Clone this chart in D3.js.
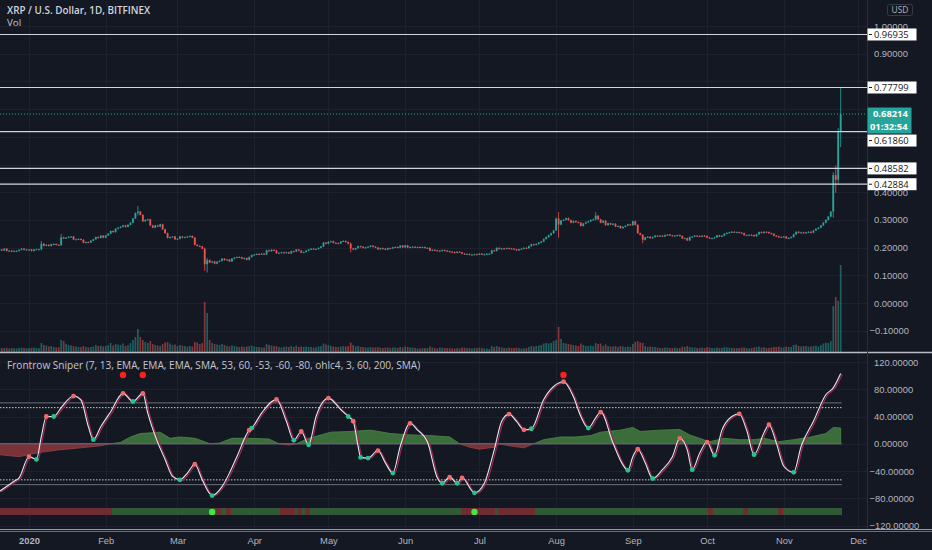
<!DOCTYPE html>
<html>
<head>
<meta charset="utf-8">
<script src="https://cdn.jsdelivr.net/npm/d3@7"></script>
<style>
  html, body { margin: 0; padding: 0; background: #141823; overflow: hidden; }
  svg { display: block; font-family: "Open Sans", "Noto Sans", sans-serif; }
</style>
</head>
<body>
<svg id="chart" width="932" height="550"></svg>
<script>
// ---- data (daily bars, first bar = 2019-12-20) ----
const startDate = new Date(Date.UTC(2019, 11, 20));
const firstOpen = 0.192;

const closeDec19 = [0.193,0.190,0.196,0.188,0.189,0.186,0.188,0.188,0.192,0.196,0.192,0.193];
const closeJan = [0.193,0.188,0.193,0.194,0.194,0.214,0.207,0.210,0.206,0.212,0.213,0.210,0.209,0.237,0.233,0.236,0.239,0.240,0.229,0.230,0.231,0.228,0.218,0.220,0.219,0.225,0.230,0.238,0.235,0.243,0.236];
const closeFeb = [0.244,0.250,0.260,0.256,0.268,0.272,0.275,0.280,0.275,0.282,0.290,0.305,0.325,0.330,0.318,0.295,0.300,0.302,0.280,0.272,0.280,0.276,0.284,0.266,0.252,0.235,0.238,0.240,0.230];
const closeMar = [0.232,0.240,0.236,0.238,0.240,0.242,0.236,0.210,0.206,0.204,0.196,0.140,0.155,0.146,0.150,0.142,0.149,0.152,0.160,0.155,0.157,0.150,0.160,0.164,0.166,0.165,0.160,0.162,0.156,0.166,0.173];
const closeApr = [0.175,0.177,0.176,0.178,0.175,0.190,0.187,0.192,0.190,0.180,0.181,0.183,0.181,0.183,0.179,0.187,0.186,0.193,0.189,0.182,0.184,0.189,0.193,0.196,0.195,0.195,0.199,0.204,0.218,0.214];
const closeMay = [0.221,0.223,0.217,0.216,0.215,0.222,0.224,0.220,0.214,0.197,0.193,0.198,0.205,0.203,0.199,0.201,0.203,0.207,0.203,0.200,0.194,0.198,0.196,0.193,0.198,0.197,0.201,0.202,0.200,0.207,0.201];
const closeJun = [0.208,0.200,0.202,0.203,0.201,0.202,0.201,0.202,0.199,0.199,0.189,0.192,0.190,0.189,0.189,0.191,0.189,0.187,0.185,0.184,0.181,0.185,0.183,0.178,0.177,0.177,0.174,0.175,0.176,0.175];
const closeJul = [0.178,0.175,0.176,0.178,0.178,0.190,0.188,0.199,0.195,0.197,0.196,0.198,0.197,0.196,0.194,0.190,0.194,0.196,0.199,0.198,0.205,0.212,0.210,0.213,0.218,0.222,0.231,0.238,0.245,0.252,0.262];
const closeAug = [0.305,0.283,0.298,0.300,0.306,0.299,0.290,0.296,0.292,0.290,0.278,0.287,0.292,0.295,0.300,0.302,0.315,0.302,0.290,0.297,0.281,0.288,0.283,0.286,0.276,0.278,0.270,0.275,0.279,0.284,0.281];
const closeSep = [0.295,0.282,0.252,0.246,0.228,0.237,0.239,0.234,0.238,0.243,0.241,0.243,0.240,0.245,0.247,0.244,0.242,0.243,0.245,0.242,0.233,0.234,0.226,0.238,0.240,0.243,0.242,0.240,0.243,0.242];
const closeOct = [0.236,0.233,0.234,0.237,0.244,0.240,0.243,0.250,0.253,0.255,0.257,0.256,0.256,0.254,0.252,0.245,0.245,0.246,0.245,0.241,0.248,0.256,0.253,0.257,0.256,0.252,0.250,0.243,0.241,0.237,0.238];
const closeNov = [0.240,0.233,0.235,0.238,0.248,0.257,0.253,0.255,0.253,0.255,0.257,0.254,0.262,0.268,0.272,0.280,0.290,0.300,0.312,0.330,0.462,0.445,0.620,0.682];

// notable wicks: date, high, low
const wicks = [
  ['2020-01-06', 0.222, 0.192],
  ['2020-01-14', 0.247, 0.208],
  ['2020-02-14', 0.348, 0.318],
  ['2020-03-12', 0.198, 0.118],
  ['2020-03-13', 0.160, 0.112],
  ['2020-05-10', 0.216, 0.185],
  ['2020-08-02', 0.326, 0.238],
  ['2020-08-17', 0.326, 0.300],
  ['2020-09-05', 0.246, 0.218],
  ['2020-11-21', 0.470, 0.310],
  ['2020-11-22', 0.494, 0.400],
  ['2020-11-23', 0.630, 0.430],
  ['2020-11-24', 0.778, 0.565]
];

// volume (millions)
const volDec19 = [45,38,40,42,35,40,38,36,42,45,40,38];
const volJan = [40,42,45,40,38,90,70,65,55,60,50,45,48,120,110,80,70,65,60,55,50,48,60,50,45,50,55,70,60,65,55];
const volFeb = [60,70,90,65,80,75,70,85,60,70,90,120,150,230,150,120,100,90,110,80,70,65,60,80,95,100,85,70,75];
const volMar = [60,70,65,60,55,60,55,100,95,80,90,500,390,120,90,80,75,70,80,70,60,55,65,60,55,50,55,50,55,60,65];
const volApr = [55,50,50,45,45,80,70,65,60,60,50,45,50,55,50,60,50,65,50,55,50,55,50,50,45,45,55,60,85,75];
const volMay = [70,60,55,50,50,55,60,55,60,95,70,55,60,50,50,45,45,50,45,45,50,45,40,45,45,40,45,45,40,50,45];
const volJun = [55,50,45,45,40,35,35,40,40,40,55,45,40,35,45,45,40,40,40,35,35,40,35,45,45,40,40,35,40,40];
const volJul = [45,40,35,35,30,60,50,60,50,45,40,40,45,40,40,45,40,35,35,40,50,60,55,60,65,70,85,90,85,90,110];
const volAug = [120,250,130,90,85,80,75,70,65,60,85,70,60,60,65,60,90,80,85,60,75,60,55,55,60,50,60,55,50,55,50];
const volSep = [80,100,110,95,90,60,50,55,50,50,45,40,40,45,45,40,40,45,40,40,55,50,60,50,45,45,40,40,45,40];
const volOct = [50,45,40,40,45,40,40,50,45,45,40,40,40,40,45,45,40,35,40,45,50,55,45,50,40,40,45,50,50,55,45];
const volNov = [45,55,50,50,70,75,60,55,60,60,55,55,60,65,55,70,85,95,90,110,460,550,510,870];

// oscillator key points: bar index, value, turn marker
const oscPoints = [
  [0,-70],[6,-55],[8,-50],[12,-19,'r'],[15,-23,'g'],[17,11],[19,40,'r'],[22,40,'g'],[25,53],
  [30,70,'r'],[33,64],[36,25],[38,6,'g'],[41,25],[45,47],[50,74,'r'],[54,62,'g'],[58,74,'r'],
  [60,45],[64,2],[67,-23],[70,-48],[73,-53,'g'],[76,-43],[79,-30,'r'],[82,-53],[86,-76,'g'],
  [90,-63],[93,-43],[96,-19],[101,20,'r'],[102,23,'g'],[106,45],[112,65,'r'],[116,33],[119,5,'g'],
  [122,18,'r'],[125,-1.5,'g'],[128,40],[133,67,'r'],[138,50],[141,40,'g'],[143,33,'r'],[145,-4],
  [146,-20,'g'],[149,-21,'g'],[153,-10,'r'],[156,-28],[159,-43,'g'],[162,-4],[166,30,'r'],[169,20],
  [173,3],[177,-50],[179,-58,'g'],[182,-49,'r'],[185,-58,'g'],[187,-50,'r'],[192,-72,'g'],[196,-58],
  [200,-9],[203,33],[206,43.5,'r'],[209,33],[212,20.5,'r'],[215,22,'g'],[220,65],[224,84],[228,91,'r'],
  [232,69],[235,40],[238,23,'g'],[241,38],[243,46.5,'r'],[248,1],[252,-31],[254,-39,'g'],[256,-19],
  [258,-8,'r'],[261,-28],[264,-51,'g'],[268,-38],[272,-19],[275,8,'r'],[278,-9],[280,-38,'g'],
  [283,-14],[286,2.5,'r'],[289,-17,'g'],[292,20],[296,40],[299,44,'r'],[302,20],[305,-16,'g'],
  [309,16],[311,28,'r'],[314,1],[317,-33],[321,-42,'g'],[324,-4],[329,33],[334,72],[337,82],[340,103]
];

// histogram key points: bar index, value
const histPoints = [
  [0,-16],[8,-19],[16,-13],[24,-9],[33,-6],[41,-3],[45,0],[49,2],[53,10],[57,15],[61,16],[65,17],
  [69,8],[73,10],[79,8],[83,3],[85,0],[89,1],[94,8],[101,8],[109,7],[113,0],[117,-2],[120,0],
  [125,8],[130,13],[134,17],[142,18],[150,20],[158,15],[166,13],[174,12],[182,10],[186,0],[190,-5],
  [194,-8],[200,-5],[202,0],[206,-3],[212,-6],[216,0],[220,6],[227,10],[233,10],[239,12],[243,17],
  [251,20],[256,24],[259,18],[267,20],[275,21],[279,13],[283,8],[287,3],[293,8],[299,6],[305,6],
  [309,8],[315,3],[321,6],[328,10],[334,15],[337,24],[340,23]
];

const topSignals = [50, 58, 228];
const bottomSignals = [86, 192];
const stripRed = [[0,45],[88,89],[92,93],[114,119],[121,122],[124,125],[187,200],[202,215],[216,216],[287,288],[301,302],[315,316]];

const priceLevels = [0.96935, 0.77799, 0.61860, 0.48582, 0.42884];
const lastPrice = 0.68214;
const countdown = '01:32:54';
const priceTicks = [-0.1,0,0.1,0.2,0.3,0.4,0.5,0.6,0.7,0.8,0.9,1.0];
const oscTicks = [-120,-80,-40,0,40,80,120];
const oscLevels = [60, -60];
const oscDotted = [53, -53];

const closes = [].concat(closeDec19, closeJan, closeFeb, closeMar, closeApr, closeMay, closeJun, closeJul, closeAug, closeSep, closeOct, closeNov);
const volumes = [].concat(volDec19, volJan, volFeb, volMar, volApr, volMay, volJun, volJul, volAug, volSep, volOct, volNov);

// ---- setup ----
const plotR = 867;
const UP = '#26a69a', DOWN = '#ef5350';
const FS = 9.4;
const svg = d3.select('#chart');
const defs = svg.append('defs');

const barDate = i => d3.utcDay.offset(startDate, i);
const x = d3.scaleUtc()
  .domain([new Date(Date.UTC(2020, 0, 1)), new Date(Date.UTC(2020, 11, 1))])
  .range([29, 858]);
const xi = i => x(barDate(i));
const yP = d3.scaleLinear().domain([0, 1]).range([303, 26]);
const yV = d3.scaleLinear().domain([0, 870]).range([352, 265]);
const yI = d3.scaleLinear().domain([-120, 120]).range([525.5, 362]);
const halfBar = (xi(1) - xi(0)) / 2;
const lastX = xi(closes.length - 1) + halfBar;

const fmtKey = d3.utcFormat('%Y-%m-%d');
const wickMap = new Map(wicks.map(w => [w[0], w]));
const bars = closes.map((c, i) => {
  const o = i ? closes[i - 1] : firstOpen;
  const w = wickMap.get(fmtKey(barDate(i)));
  return { i, o, c, h: w ? w[1] : Math.max(o, c), l: w ? w[2] : Math.min(o, c), v: volumes[i] };
});

defs.append('clipPath').attr('id', 'priceclip')
  .append('rect').attr('x', 0).attr('y', 0).attr('width', plotR).attr('height', 352);
defs.append('clipPath').attr('id', 'oscclip')
  .append('rect').attr('x', 0).attr('y', 354).attr('width', plotR).attr('height', 175);
defs.append('clipPath').attr('id', 'above')
  .append('rect').attr('x', 0).attr('y', 354).attr('width', plotR).attr('height', yI(0) - 354);
defs.append('clipPath').attr('id', 'below')
  .append('rect').attr('x', 0).attr('y', yI(0)).attr('width', plotR).attr('height', 529 - yI(0));

// ---- grid ----
const grid = svg.append('g').attr('stroke', '#1e2230').attr('stroke-width', 1);
const months = d3.utcMonth.range(new Date(Date.UTC(2020, 0, 1)), new Date(Date.UTC(2020, 11, 2)));
grid.selectAll('.vg').data(months).enter().append('line')
  .attr('x1', d => Math.round(x(d)) + 0.5).attr('x2', d => Math.round(x(d)) + 0.5)
  .attr('y1', 0).attr('y2', 529);
grid.selectAll('.hp').data(priceTicks).enter().append('line')
  .attr('x1', 0).attr('x2', plotR)
  .attr('y1', d => Math.round(yP(d)) + 0.5).attr('y2', d => Math.round(yP(d)) + 0.5);
grid.selectAll('.hi').data(oscTicks).enter().append('line')
  .attr('x1', 0).attr('x2', plotR)
  .attr('y1', d => Math.round(yI(d)) + 0.5).attr('y2', d => Math.round(yI(d)) + 0.5);

// ---- price pane ----
const pricePane = svg.append('g').attr('clip-path', 'url(#priceclip)');

pricePane.append('g').selectAll('rect').data(bars).enter().append('rect')
  .attr('x', d => xi(d.i) - 0.85).attr('width', 1.7)
  .attr('y', d => yV(d.v)).attr('height', d => yV(0) - yV(d.v))
  .attr('fill', d => d.c >= d.o ? UP : DOWN).attr('opacity', 0.5);

pricePane.append('g').selectAll('line').data(bars).enter().append('line')
  .attr('x1', d => xi(d.i)).attr('x2', d => xi(d.i))
  .attr('y1', d => yP(d.h) - 0.6).attr('y2', d => yP(d.l) + 0.6)
  .attr('stroke', d => d.c >= d.o ? UP : DOWN).attr('stroke-width', 0.8);

pricePane.append('g').selectAll('rect').data(bars).enter().append('rect')
  .attr('x', d => xi(d.i) - 0.9).attr('width', 1.8)
  .attr('y', d => yP(Math.max(d.o, d.c)))
  .attr('height', d => Math.max(1, Math.abs(yP(d.o) - yP(d.c))))
  .attr('fill', d => d.c >= d.o ? UP : DOWN);

pricePane.append('line')
  .attr('x1', 0).attr('x2', plotR).attr('y1', yP(lastPrice)).attr('y2', yP(lastPrice))
  .attr('stroke', UP).attr('stroke-width', 1).attr('stroke-dasharray', '1,2');

pricePane.selectAll('.lvl').data(priceLevels).enter().append('line')
  .attr('x1', 0).attr('x2', plotR)
  .attr('y1', d => yP(d)).attr('y2', d => yP(d))
  .attr('stroke', '#d1d4dc').attr('stroke-width', 1.2);

// ---- oscillator pane ----
const osc = svg.append('g').attr('clip-path', 'url(#oscclip)');

const histArea = d3.area()
  .x(d => xi(d[0])).y0(yI(0)).y1(d => yI(d[1]));
osc.append('path').datum(histPoints).attr('d', histArea)
  .attr('clip-path', 'url(#above)').attr('fill', '#3b6d3a').attr('stroke', '#4d8a48').attr('stroke-width', 0.8);
osc.append('path').datum(histPoints).attr('d', histArea)
  .attr('clip-path', 'url(#below)').attr('fill', '#7a3238').attr('stroke', '#93424a').attr('stroke-width', 0.8);

osc.append('line').attr('x1', 0).attr('x2', lastX)
  .attr('y1', yI(0)).attr('y2', yI(0)).attr('stroke', '#4f6f8f').attr('stroke-width', 1.2);

osc.selectAll('.lv').data(oscLevels).enter().append('line')
  .attr('x1', 0).attr('x2', lastX).attr('y1', d => yI(d)).attr('y2', d => yI(d))
  .attr('stroke', '#6a6e78').attr('stroke-width', 1);
osc.selectAll('.ld').data(oscDotted).enter().append('line')
  .attr('x1', 0).attr('x2', lastX).attr('y1', d => yI(d)).attr('y2', d => yI(d))
  .attr('stroke', '#c9ccd4').attr('stroke-width', 1).attr('stroke-dasharray', '1.5,1.5');

// bottom trend strip: green base, red runs on top
const strip = osc.append('g').attr('shape-rendering', 'crispEdges');
strip.append('rect').attr('x', 0).attr('width', lastX)
  .attr('y', yI(-95)).attr('height', yI(-105) - yI(-95)).attr('fill', '#2f5a35');
strip.selectAll('.sr').data(stripRed).enter().append('rect')
  .attr('x', d => xi(d[0]) - halfBar).attr('width', d => xi(d[1]) - xi(d[0]) + 2 * halfBar)
  .attr('y', yI(-95)).attr('height', yI(-105) - yI(-95)).attr('fill', '#6e2c33');

const oscLine = d3.line().x(d => xi(d[0])).y(d => yI(d[1])).curve(d3.curveMonotoneX);
osc.append('path').datum(oscPoints).attr('d', oscLine)
  .attr('transform', 'translate(1.6,0.6)')
  .attr('fill', 'none').attr('stroke', '#9c2850').attr('stroke-width', 1.2);
osc.append('path').datum(oscPoints).attr('d', oscLine)
  .attr('fill', 'none').attr('stroke', '#e8e8ee').attr('stroke-width', 1.1);

osc.append('g').selectAll('circle').data(oscPoints.filter(d => d[2])).enter().append('circle')
  .attr('cx', d => xi(d[0])).attr('cy', d => yI(d[1])).attr('r', 2.4)
  .attr('fill', d => d[2] === 'g' ? '#22c58b' : '#ef6b6b');

osc.append('g').selectAll('circle').data(topSignals).enter().append('circle')
  .attr('cx', d => xi(d)).attr('cy', yI(101)).attr('r', 3.2).attr('fill', '#ff1f1f');
osc.append('g').selectAll('circle').data(bottomSignals).enter().append('circle')
  .attr('cx', d => xi(d)).attr('cy', yI(-100)).attr('r', 3.2).attr('fill', '#3dea3d');

// ---- separators ----
svg.append('line').attr('x1', 0).attr('x2', 932).attr('y1', 352.5).attr('y2', 352.5)
  .attr('stroke', '#b8bbc4').attr('stroke-width', 1.5);
svg.append('line').attr('x1', 0).attr('x2', 932).attr('y1', 529.5).attr('y2', 529.5)
  .attr('stroke', '#9a9da6').attr('stroke-width', 1);
svg.append('line').attr('x1', 0).attr('x2', 932).attr('y1', 531.5).attr('y2', 531.5)
  .attr('stroke', '#6c6f78').attr('stroke-width', 1);
svg.append('line').attr('x1', plotR + 0.5).attr('x2', plotR + 0.5).attr('y1', 0).attr('y2', 529)
  .attr('stroke', '#2a2e39').attr('stroke-width', 1);

// ---- price labels on the axis (placed first so ticks under them can be skipped) ----
const labels = priceLevels.map(p => ({ kind: 'level', p, y: yP(p), h: 12 }));
labels.push({ kind: 'last', p: lastPrice, y: yP(lastPrice) + 6.5, h: 26 });
labels.sort((a, b) => a.y - b.y);
let prevBottom = -Infinity;
labels.forEach(l => {
  l.top = Math.max(l.y - l.h / 2, prevBottom + 1);
  prevBottom = l.top + l.h;
});
const covered = t => labels.some(l => yP(t) > l.top - 1 && yP(t) < l.top + l.h + 1);

// ---- axes ----
const styleAxis = g => {
  g.select('.domain').remove();
  g.selectAll('text').attr('fill', '#b2b5be').attr('font-size', FS);
};

svg.append('g').attr('transform', `translate(${plotR + 3},0)`)
  .call(d3.axisRight(yP).tickValues(priceTicks.filter(t => !covered(t)))
    .tickFormat(d3.format('.5f')).tickSize(0).tickPadding(4))
  .call(styleAxis)
  .call(g => g.selectAll('text').filter(d => d < 0).attr('dx', -4.5));

svg.append('g').attr('transform', `translate(${plotR + 3},0)`)
  .call(d3.axisRight(yI).tickValues(oscTicks).tickFormat(d3.format('.5f')).tickSize(0).tickPadding(4))
  .call(styleAxis)
  .call(g => g.selectAll('text').filter(d => d < 0).attr('dx', -4.5));

svg.append('g').attr('transform', 'translate(0,535)')
  .call(d3.axisBottom(x).tickValues(months)
    .tickFormat(d => d.getUTCMonth() === 0 ? d3.utcFormat('%Y')(d) : d3.utcFormat('%b')(d))
    .tickSize(0).tickPadding(2.5))
  .call(styleAxis)
  .call(g => g.selectAll('text').filter(d => d.getUTCMonth() === 0).attr('font-weight', 700));

const lab = svg.append('g');
labels.forEach(l => {
  if (l.kind === 'level') {
    lab.append('rect').attr('x', plotR + 0.5).attr('y', l.top).attr('width', 49).attr('height', l.h)
      .attr('fill', '#ffffff');
    lab.append('line').attr('x1', plotR + 2).attr('x2', plotR + 5)
      .attr('y1', l.top + l.h / 2).attr('y2', l.top + l.h / 2).attr('stroke', '#131722');
    lab.append('text').attr('x', plotR + 7).attr('y', l.top + l.h / 2 + 3.3)
      .attr('font-size', FS).attr('fill', '#131722').text(d3.format('.5f')(l.p));
  } else {
    lab.append('rect').attr('x', plotR + 0.5).attr('y', l.top).attr('width', 44).attr('height', l.h)
      .attr('fill', UP);
    lab.append('text').attr('x', plotR + 6).attr('y', l.top + 9.5)
      .attr('font-size', FS).attr('font-weight', 700).attr('fill', '#ffffff').text(d3.format('.5f')(l.p));
    lab.append('text').attr('x', plotR + 3).attr('y', l.top + 22.3)
      .attr('font-size', FS).attr('font-weight', 700).attr('fill', '#ffffff').text(countdown);
  }
});

// ---- titles ----
svg.append('text').attr('x', 7).attr('y', 14).attr('font-size', 9.9).attr('font-weight', 600)
  .attr('fill', '#d1d4dc').text('XRP / U.S. Dollar, 1D, BITFINEX');
svg.append('text').attr('x', 7).attr('y', 25.5).attr('font-size', 9.8)
  .attr('fill', '#c3c6ce').text('Vol');
svg.append('text').attr('x', 7).attr('y', 368.5).attr('font-size', 10.1)
  .attr('fill', '#c3c6ce')
  .text('Frontrow Sniper (7, 13, EMA, EMA, EMA, SMA, 53, 60, -53, -60, -80, ohlc4, 3, 60, 200, SMA)');

svg.append('rect').attr('x', 887.5).attr('y', 4.5).attr('width', 25).attr('height', 11).attr('rx', 2)
  .attr('fill', 'none').attr('stroke', '#363a45');
svg.append('text').attr('x', 900).attr('y', 13).attr('text-anchor', 'middle').attr('font-size', 8.4)
  .attr('fill', '#b2b5be').text('USD');
</script>
</body>
</html>
